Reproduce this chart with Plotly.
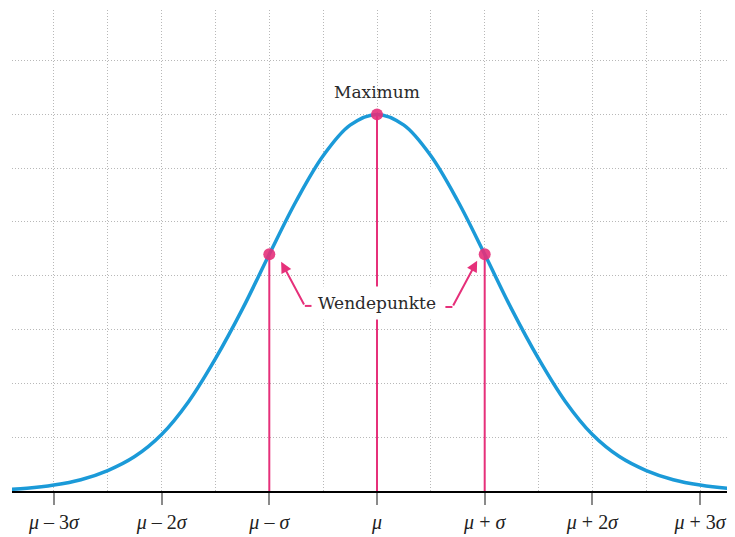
import plotly.graph_objects as go

# Curve samples (x in sigma units from mu, y in grid units; grid spacing = 1)
curve_x = [-3.5, -3.25, -3.0, -2.75, -2.5, -2.25, -2.0, -1.75, -1.5, -1.25, -1.0, -0.75, -0.5, -0.25,
           0.0, 0.25, 0.5, 0.75, 1.0, 1.25, 1.5, 1.75, 2.0, 2.25, 2.5, 2.75, 3.0, 3.25, 3.5]
curve_y = [0.02, 0.05, 0.11, 0.21, 0.38, 0.64, 1.05, 1.66, 2.46, 3.38, 4.40, 5.39, 6.23, 6.80,
           7.00, 6.80, 6.23, 5.39, 4.40, 3.38, 2.46, 1.66, 1.05, 0.64, 0.38, 0.21, 0.11, 0.05, 0.02]

# Highlighted points: inflection points and maximum
point_x = [-1.0, 0.0, 1.0]
point_y = [4.40, 7.00, 4.40]

tick_vals = [-3, -2, -1, 0, 1, 2, 3]
tick_text = ["<i>μ</i> – 3<i>σ</i>", "<i>μ</i> – 2<i>σ</i>", "<i>μ</i> – <i>σ</i>", "<i>μ</i>",
             "<i>μ</i> + <i>σ</i>", "<i>μ</i> + 2<i>σ</i>", "<i>μ</i> + 3<i>σ</i>"]

BLUE = "#1b9ad8"
PINK = "#e6307a"
GRID = "#b8b8b8"
SERIF = "DejaVu Serif"

fig = go.Figure()

# pink vertical lines from points to axis
for px, py in zip(point_x, point_y):
    fig.add_trace(go.Scatter(x=[px, px], y=[0, py], mode="lines",
                             line=dict(color=PINK, width=2), hoverinfo="skip", showlegend=False))

fig.add_trace(go.Scatter(x=curve_x, y=curve_y, mode="lines",
                         line=dict(color=BLUE, width=3.5, shape="spline", smoothing=1.0),
                         hoverinfo="skip", showlegend=False))

fig.add_trace(go.Scatter(x=point_x, y=point_y, mode="markers",
                         marker=dict(color=PINK, size=12, opacity=0.9, line=dict(width=0)),
                         hoverinfo="skip", showlegend=False))

# Labels
fig.add_annotation(x=0, y=7.42, text="Maximum", showarrow=False,
                   font=dict(family=SERIF, size=17, color="#2a2a2a"), yanchor="middle")
fig.add_annotation(x=0, y=3.5, text="Wendepunkte", showarrow=False,
                   font=dict(family=SERIF, size=17, color="#2a2a2a"), yanchor="middle",
                   bgcolor="white", borderpad=6)

# connectors with arrowheads
fig.add_annotation(x=-0.89, y=4.26, ax=-0.67, ay=3.44, axref="x", ayref="y", xref="x", yref="y",
                   text="", showarrow=True, arrowhead=2, arrowsize=1.1, arrowwidth=2, arrowcolor=PINK,
                   standoff=0)
fig.add_annotation(x=0.93, y=4.28, ax=0.70, ay=3.42, axref="x", ayref="y", xref="x", yref="y",
                   text="", showarrow=True, arrowhead=2, arrowsize=1.1, arrowwidth=2, arrowcolor=PINK,
                   standoff=0)
fig.add_shape(type="line", x0=-0.67, y0=3.44, x1=-0.60, y1=3.44, line=dict(color=PINK, width=2))
fig.add_shape(type="line", x0=0.70, y0=3.42, x1=0.635, y1=3.42, line=dict(color=PINK, width=2))

fig.update_layout(
    width=727, height=529,
    margin=dict(l=4, r=0, t=2, b=46),
    paper_bgcolor="white", plot_bgcolor="white",
    showlegend=False,
    xaxis=dict(range=[-3.389, 3.324], tickvals=tick_vals, ticktext=tick_text,
               automargin=False,
               showgrid=True, griddash="1px,2px", gridcolor=GRID, gridwidth=1,
               minor=dict(dtick=0.5, tick0=0, showgrid=True, griddash="1px,2px", gridcolor=GRID,
                          gridwidth=1, ticks=""),
               showline=True, linecolor="black", linewidth=2,
               ticks="outside", ticklen=12, tickwidth=2, tickcolor="#8a8a8a",
               tickfont=dict(family="Liberation Serif", size=20, color="#222222"),
               zeroline=False, fixedrange=True),
    yaxis=dict(range=[0, 8.94], tickvals=[1, 2, 3, 4, 5, 6, 7, 8], showticklabels=False,
               automargin=False,
               showgrid=True, griddash="1px,2px", gridcolor=GRID, gridwidth=1,
               zeroline=False, showline=False, ticks="", fixedrange=True),
)

fig.write_html("out.html")
